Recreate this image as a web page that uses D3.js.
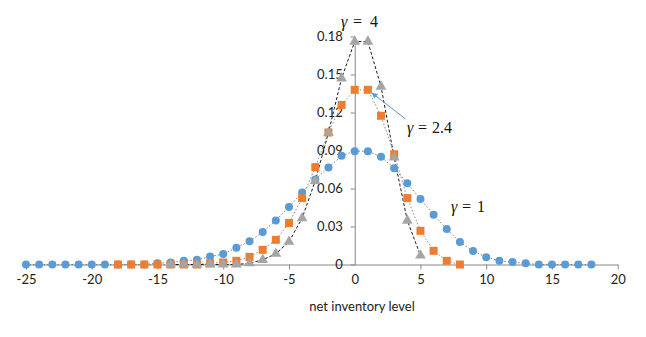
<!DOCTYPE html>
<html><head><meta charset="utf-8">
<script src="https://cdn.jsdelivr.net/npm/d3@7"></script>
<style>body{margin:0;background:#fff;} svg{display:block;}</style>
</head><body>
<svg id="c" width="646" height="337"></svg>
<script>
const xTicks = [-25,-20,-15,-10,-5,0,5,10,15,20];
const yTicks = [0,0.03,0.06,0.09,0.12,0.15,0.18];
const blueX = d3.range(-25,19);
const blueY = [0,0,0,0,0,0,0,0,0,0,
  0.001,0.0016,0.0029,0.0037,0.0063,0.0082,0.0133,0.0183,0.0256,0.0348,0.0453,0.0569,0.0672,0.0766,0.0858,
  0.0895,0.0895,0.0850,0.0760,0.0642,0.0517,0.0392,0.0280,0.0177,0.0106,0.0058,0.0029,0.0019,0.001,
  0,0,0,0,0];
const orangeX = d3.range(-18,9);
const orangeY = [0,0,0,0,0,0,0,0.001,0.0016,0.0029,0.006,0.0116,0.0195,0.0327,0.0524,0.0769,0.1042,0.126,
  0.1379,0.1379,0.1174,0.0871,0.0524,0.0266,0.0108,0.0029,0];
const grayX = d3.range(-14,6);
const grayY = [0,0,0,0,0,0,0.001,0.0037,0.0085,0.018,0.0366,0.066,0.104,0.147,0.176,0.176,0.1405,0.0845,0.0347,0.0071];

const svg = d3.select('#c');
const x = d3.scaleLinear().domain([-25,20]).range([26,617.7]);
const y = d3.scaleLinear().domain([0,0.18]).range([264.5,36.5]);
const axisColor = '#868686';
const tickFont = 'Lato, "Open Sans", sans-serif';

// x axis
const gx = svg.append('g').attr('transform',`translate(0,${y(0)})`)
  .call(d3.axisBottom(x).tickValues(xTicks).tickSize(5).tickSizeOuter(0).tickPadding(5).tickFormat(d=>String(d).replace('−','-')));
gx.select('.domain').attr('stroke',axisColor);
gx.selectAll('.tick line').attr('stroke',axisColor);
gx.selectAll('.tick text').attr('fill','#222').style('font-family',tickFont).style('font-size','13px');
gx.selectAll('.tick').filter(d=>d===0).select('line').remove();

// y axis
const gy = svg.append('g').attr('transform',`translate(${x(0)},0)`)
  .call(d3.axisLeft(y).tickValues(yTicks).tickSize(4).tickSizeOuter(0).tickPadding(8).tickFormat(d=>d===0?'0':d3.format('.2f')(d)));
gy.select('.domain').attr('stroke',axisColor);
gy.selectAll('.tick line').attr('stroke',axisColor);
gy.selectAll('.tick text').attr('fill','#222').style('font-family',tickFont).style('font-size','13px');

// axis title
svg.append('text').attr('x',362).attr('y',311).attr('text-anchor','middle')
  .style('font-family',tickFont).style('font-size','13px').attr('fill','#222').text('net inventory level');

const line = d3.line().x(d=>x(d[0])).y(d=>y(d[1]));
const blue = blueX.map((v,i)=>[v,blueY[i]]);
const orange = orangeX.map((v,i)=>[v,orangeY[i]]);
const gray = grayX.map((v,i)=>[v,grayY[i]]);

svg.append('path').datum(blue).attr('d',line).attr('fill','none').attr('stroke','#7f7f7f').attr('stroke-width',1).attr('stroke-dasharray','1.5,2');
svg.append('path').datum(orange).attr('d',line).attr('fill','none').attr('stroke','#8c8c8c').attr('stroke-width',1).attr('stroke-dasharray','1.5,2');
svg.append('path').datum(gray).attr('d',line).attr('fill','none').attr('stroke','#1a1a1a').attr('stroke-width',1).attr('stroke-dasharray','3,2');

svg.append('g').selectAll('circle').data(blue).join('circle')
  .attr('cx',d=>x(d[0])).attr('cy',d=>y(d[1])).attr('r',4).attr('fill','#5B9BD5');
svg.append('g').selectAll('rect').data(orange).join('rect')
  .attr('x',d=>x(d[0])-4).attr('y',d=>y(d[1])-4).attr('width',8).attr('height',8).attr('fill','#ED7D31');
const tri = d3.symbol().type(d3.symbolTriangle).size(50);
svg.append('g').selectAll('path').data(gray).join('path')
  .attr('transform',d=>`translate(${x(d[0])},${y(d[1])})`).attr('d',tri).attr('fill','#A5A5A5');

// annotations
const serif = '"Liberation Serif", "DejaVu Serif", serif';
function gammaLabel(gx, ex, vx, py, val){
  const t = svg.append('text').attr('y',py).style('font-family',serif).style('font-size','16px').attr('fill','#111');
  t.append('tspan').attr('x',gx).style('font-style','italic').text('γ');
  t.append('tspan').attr('x',ex).text('=');
  t.append('tspan').attr('x',vx).text(val);
}
gammaLabel(341,353,370,27,'4');
gammaLabel(407,418,432,133,'2.4');
gammaLabel(451,462,477,212,'1');

// arrow
svg.append('defs').append('marker').attr('id','ah').attr('viewBox','0 0 10 10').attr('refX',9).attr('refY',5)
  .attr('markerWidth',6).attr('markerHeight',6).attr('orient','auto')
  .append('path').attr('d','M0,0L10,5L0,10Z').attr('fill','#5B9BD5');
svg.append('line').attr('x1',405.5).attr('y1',119).attr('x2',372).attr('y2',93)
  .attr('stroke','#5B9BD5').attr('stroke-width',1).attr('marker-end','url(#ah)');
</script>
</body></html>
